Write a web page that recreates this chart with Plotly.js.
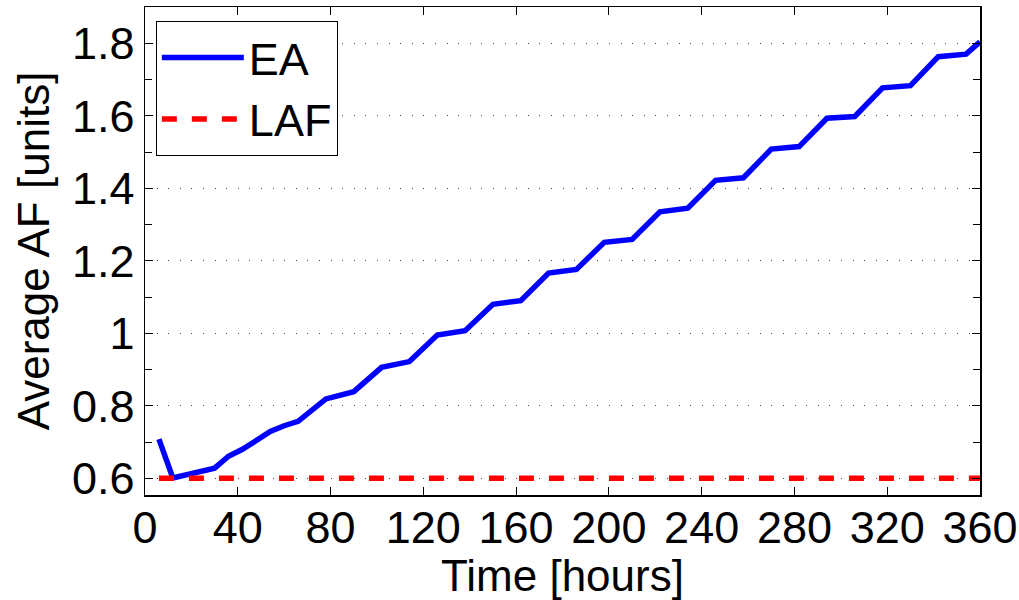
<!DOCTYPE html>
<html>
<head>
<meta charset="utf-8">
<script src="https://cdn.plot.ly/plotly-3.0.1.min.js"></script>
<style>html,body{margin:0;padding:0;background:#fff;}#chart{width:1019px;height:600px;}</style>
</head>
<body>
<div id="chart"></div>
<script>
// Data
const eaHours = [6, 12, 30, 36, 42, 54, 60, 66, 78, 90, 102, 114, 126, 138, 150, 162, 174, 186, 198, 210, 222, 234, 246, 258, 270, 282, 294, 306, 318, 330, 342, 354, 360];
const eaValues = [0.708, 0.601, 0.628, 0.661, 0.680, 0.729, 0.745, 0.757, 0.819, 0.839, 0.906, 0.922, 0.995, 1.007, 1.080, 1.090, 1.166, 1.176, 1.251, 1.259, 1.335, 1.345, 1.422, 1.429, 1.508, 1.515, 1.593, 1.598, 1.677, 1.683, 1.763, 1.770, 1.804];
const lafHours = [6, 360];
const lafValues = [0.6, 0.6];
const xTicks = [0, 40, 80, 120, 160, 200, 240, 280, 320, 360];
const yTicks = [0.6, 0.8, 1, 1.2, 1.4, 1.6, 1.8];
const yTickLabels = ['0.6', '0.8', '1', '1.2', '1.4', '1.6', '1.8'];

const font = 'Liberation Sans, Arial, Helvetica, sans-serif';

const traces = [
  {x: eaHours, y: eaValues, name: 'EA', mode: 'lines', type: 'scatter',
   line: {color: '#0000ff', width: 5.5}},
  {x: lafHours, y: lafValues, name: 'LAF', mode: 'lines', type: 'scatter',
   line: {color: '#ff0000', width: 5.5, dash: '15px,15px'}}
];

const axisCommon = {
  showline: true, linecolor: '#000', linewidth: 1.5, mirror: 'ticks',
  ticks: 'inside', ticklen: 8, tickcolor: '#000', tickwidth: 1,
  zeroline: false,
  tickfont: {family: font, size: 45, color: '#000'}
};

const layout = {
  width: 1019, height: 600,
  paper_bgcolor: '#fff', plot_bgcolor: '#fff',
  margin: {l: 145, r: 39, t: 7, b: 105},
  showlegend: true,
  legend: {
    x: 0.013, y: 0.972, xanchor: 'left', yanchor: 'top',
    bgcolor: '#fff', bordercolor: '#000', borderwidth: 1,
    font: {family: font, size: 45, color: '#000'},
    itemwidth: 82, tracegroupgap: 0
  },
  xaxis: Object.assign({}, axisCommon, {
    range: [0, 360], tickvals: xTicks, showgrid: false,
    ticklabelstandoff: -8,
    title: {text: 'Time [hours]', font: {family: font, size: 44, color: '#000'}, standoff: 6}
  }),
  yaxis: Object.assign({}, axisCommon, {
    range: [0.554, 1.9], tickvals: yTicks, ticktext: yTickLabels,
    showgrid: true, gridcolor: '#444', gridwidth: 1, griddash: '1px,10.6px',
    minor: {dtick: 0.1, ticks: 'inside', ticklen: 7, tickcolor: '#000', showgrid: false},
    title: {text: 'Average AF [units]', font: {family: font, size: 44, color: '#000'}, standoff: 8}
  })
};

Plotly.newPlot('chart', traces, layout, {displayModeBar: false, staticPlot: true});
</script>
</body>
</html>
